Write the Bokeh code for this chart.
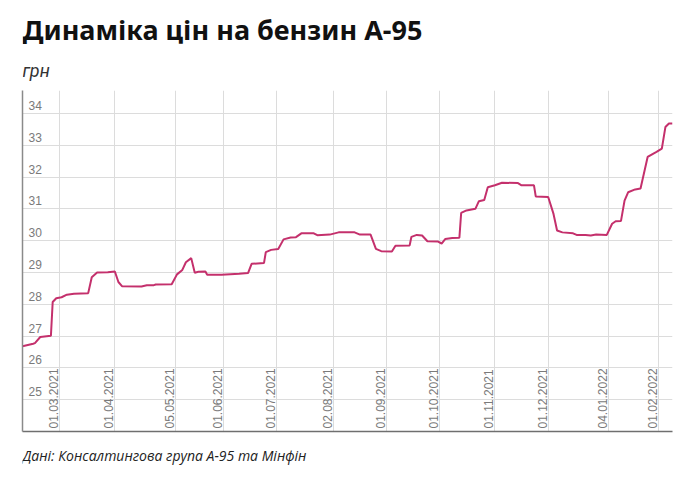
import math
from datetime import datetime
from bokeh.plotting import figure
from bokeh.layouts import column
from bokeh.models import FixedTicker, Range1d
from bokeh.embed import file_html
from bokeh.resources import INLINE
from bokeh.core.properties import value

# ---------------- data ----------------
dates = [
    "2021-02-08", "2021-02-14", "2021-02-15", "2021-02-18", "2021-02-24", "2021-02-25",
    "2021-02-27", "2021-03-02", "2021-03-05", "2021-03-09", "2021-03-17", "2021-03-19",
    "2021-03-22", "2021-03-28", "2021-04-01", "2021-04-03", "2021-04-05", "2021-04-16",
    "2021-04-19", "2021-04-23", "2021-04-24", "2021-05-03", "2021-05-06", "2021-05-09",
    "2021-05-11", "2021-05-14", "2021-05-16", "2021-05-18", "2021-05-22", "2021-05-23",
    "2021-05-31", "2021-06-10", "2021-06-15", "2021-06-17", "2021-06-24", "2021-06-25",
    "2021-06-28", "2021-07-02", "2021-07-05", "2021-07-09", "2021-07-12", "2021-07-15",
    "2021-07-22", "2021-07-24", "2021-07-31", "2021-08-05", "2021-08-14", "2021-08-17",
    "2021-08-23", "2021-08-26", "2021-08-29", "2021-09-04", "2021-09-06", "2021-09-14",
    "2021-09-15", "2021-09-18", "2021-09-21", "2021-09-24", "2021-09-30", "2021-10-02",
    "2021-10-04", "2021-10-08", "2021-10-12", "2021-10-13", "2021-10-16", "2021-10-21",
    "2021-10-23", "2021-10-26", "2021-10-28", "2021-11-01", "2021-11-05", "2021-11-14",
    "2021-11-16", "2021-11-23", "2021-11-24", "2021-12-01", "2021-12-04", "2021-12-06",
    "2021-12-09", "2021-12-15", "2021-12-17", "2021-12-22", "2021-12-25", "2021-12-28",
    "2022-01-03", "2022-01-06", "2022-01-08", "2022-01-11", "2022-01-13", "2022-01-15",
    "2022-01-19", "2022-01-22", "2022-01-26", "2022-01-29", "2022-01-31", "2022-02-03",
    "2022-02-05", "2022-02-07", "2022-02-09",
]
prices = [
    26.68, 26.76, 26.78, 26.97, 27.01, 28.07,
    28.19, 28.22, 28.30, 28.33, 28.35, 28.85,
    29.00, 29.01, 29.03, 28.70, 28.57, 28.56,
    28.60, 28.60, 28.62, 28.63, 28.94, 29.08,
    29.32, 29.45, 28.99, 29.02, 29.03, 28.93,
    28.93, 28.96, 28.98, 29.27, 29.30, 29.64,
    29.71, 29.74, 30.04, 30.10, 30.11, 30.23,
    30.23, 30.17, 30.19, 30.26, 30.26, 30.19,
    30.19, 29.74, 29.67, 29.66, 29.84, 29.85,
    30.12, 30.18, 30.16, 29.98, 29.97, 29.91,
    30.05, 30.08, 30.09, 30.87, 30.95, 31.00,
    31.24, 31.28, 31.68, 31.74, 31.82, 31.81,
    31.74, 31.74, 31.39, 31.37, 30.84, 30.32,
    30.26, 30.23, 30.18, 30.18, 30.16, 30.19,
    30.18, 30.53, 30.61, 30.62, 31.26, 31.52,
    31.61, 31.64, 32.63, 32.73, 32.79, 32.89,
    33.57, 33.68, 33.68,
]
tick_dates = ["2021-03-01", "2021-04-01", "2021-05-05", "2021-06-01", "2021-07-01",
              "2021-08-02", "2021-09-01", "2021-10-01", "2021-11-01", "2021-12-01",
              "2022-01-04", "2022-02-01"]
tick_labels = ["01.03.2021", "01.04.2021", "05.05.2021", "01.06.2021", "01.07.2021",
               "02.08.2021", "01.09.2021", "01.10.2021", "01.11.2021", "01.12.2021",
               "04.01.2022", "01.02.2022"]
y_ticks = [25, 26, 27, 28, 29, 30, 31, 32, 33, 34]

title_text = "Динаміка цін на бензин А-95"
unit_text = "грн"
source_text = "Дані: Консалтингова група А-95 та Мінфін"

W = 686
LEFT, RIGHT = 22, 14


def text_panel(h):
    """A blank figure whose data units are pixels (y grows downward)."""
    f = figure(title=None, width=W, height=h,
               x_range=Range1d(LEFT, W - RIGHT), y_range=Range1d(h, 0),
               output_backend="svg", toolbar_location=None,
               x_axis_location=None, y_axis_location=None,
               min_border_left=LEFT, min_border_right=RIGHT,
               min_border_top=0, min_border_bottom=0)
    f.grid.visible = False
    f.outline_line_color = None
    f.background_fill_color = "white"
    f.border_fill_color = "white"
    return f


# ---------------- header ----------------
head = text_panel(90)
head.text(x=[22], y=[29], text=[title_text], text_baseline="alphabetic",
          text_font=value("Noto Sans"), text_font_style="bold", text_font_size="27px",
          text_color="#111111")
head.text(x=[22], y=[70], text=[unit_text], text_baseline="alphabetic",
          text_font=value("Roboto"), text_font_style="italic", text_font_size="18px",
          text_color="#333333")

# ---------------- chart ----------------
to_dt = lambda s: datetime.strptime(s, "%Y-%m-%d")
xs = [to_dt(d) for d in dates]
tx = [to_dt(d) for d in tick_dates]
x_start, x_end = xs[0], xs[-1]

p = figure(title=None, width=W, height=346, x_axis_type="datetime",
           x_range=Range1d(x_start, x_end), y_range=Range1d(24, 34.72),
           output_backend="svg", toolbar_location=None,
           min_border_left=LEFT, min_border_right=RIGHT,
           min_border_top=0, min_border_bottom=5)
p.outline_line_color = None
p.background_fill_color = "white"
p.border_fill_color = "white"


def ms(d):
    return (d - datetime(1970, 1, 1)).total_seconds() * 1000.0


# axes: line only; grids carry the tick positions
p.xaxis.ticker = FixedTicker(ticks=[])
p.yaxis.ticker = FixedTicker(ticks=[])
p.xgrid.ticker = FixedTicker(ticks=[ms(d) for d in tx])
p.ygrid.ticker = FixedTicker(ticks=y_ticks)
for ax in (p.xaxis, p.yaxis):
    ax.major_tick_in = 0
    ax.major_tick_out = 0
    ax.minor_tick_in = 0
    ax.minor_tick_out = 0
p.xaxis.axis_line_color = "#6f6f6f"
p.xaxis.axis_line_width = 1.5
p.yaxis.axis_line_color = "#8a8a8a"
p.yaxis.axis_line_width = 1.5
p.xgrid.grid_line_color = "#dcdcdc"
p.ygrid.grid_line_color = "#dcdcdc"

# y tick labels inside the plot, above gridlines
p.text(x=[x_start] * len(y_ticks), y=y_ticks, text=[str(v) for v in y_ticks],
       x_offset=6, y_offset=-8, text_align="left", text_baseline="alphabetic",
       text_font=value("Liberation Sans"), text_font_size="12px", text_color="#7a7a7a")

# x tick labels, rotated, inside the plot
p.text(x=tx, y=[24] * len(tx), text=tick_labels, angle=math.pi / 2,
       x_offset=-6, y_offset=-3, text_align="left", text_baseline="alphabetic",
       text_font=value("Liberation Sans"), text_font_size="12px", text_color="#7a7a7a")

p.line(xs, prices, line_color="#c4306c", line_width=2)

# ---------------- footer ----------------
foot = text_panel(44)
foot.text(x=[22], y=[19], text=[source_text], text_baseline="alphabetic",
          text_font=value("Open Sans"), text_font_style="italic", text_font_size="14px",
          text_color="#222222")

layout = column(head, p, foot, spacing=0)
open("out.html", "w").write(file_html(layout, INLINE))
